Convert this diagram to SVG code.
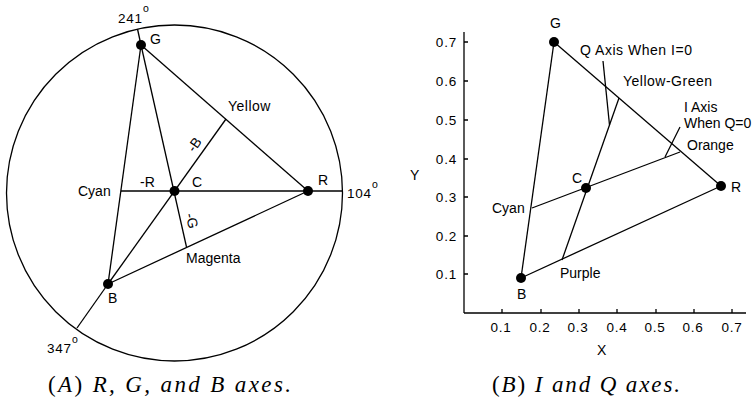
<svg xmlns="http://www.w3.org/2000/svg" width="754" height="401" viewBox="0 0 754 401">
<style>
.ln{stroke:#000;stroke-width:1.3;fill:none}
.dot{fill:#000}
.lb{font-family:"Liberation Sans","DejaVu Sans",sans-serif;font-size:14px;fill:#000}
.tk{font-family:"Liberation Sans","DejaVu Sans",sans-serif;font-size:13.5px;letter-spacing:0.8px;fill:#000}
.sup{font-family:"Liberation Sans","DejaVu Sans",sans-serif;font-size:10.5px;fill:#000}
.cap{font-family:"Liberation Serif","DejaVu Serif",serif;font-size:23px;font-style:italic;fill:#000}
</style>
<rect width="754" height="401" fill="#fff"/>
<!-- Panel A -->
<g id="panelA-connectors">
<circle class="ln" cx="174.5" cy="193" r="168"/>
<line class="ln" x1="141" y1="45" x2="137.5" y2="29"/>
<line class="ln" x1="121" y1="191" x2="342" y2="191"/>
<line class="ln" x1="108" y1="284" x2="77" y2="328"/>
<line class="ln" x1="141" y1="45" x2="308" y2="191"/>
<line class="ln" x1="308" y1="191" x2="108" y2="284"/>
<line class="ln" x1="141" y1="45" x2="108" y2="284"/>
<line class="ln" x1="141" y1="45" x2="186.5" y2="247"/>
<line class="ln" x1="108" y1="284" x2="226" y2="119"/>
</g>
<g id="A-G"><circle class="dot" cx="141" cy="45" r="5"/><text class="lb" x="150" y="44">G</text></g>
<g id="A-R"><circle class="dot" cx="308" cy="191" r="5"/><text class="lb" x="318" y="185">R</text></g>
<g id="A-B"><circle class="dot" cx="108" cy="284" r="5"/><text class="lb" x="108" y="303">B</text></g>
<g id="A-C"><circle class="dot" cx="174.5" cy="191" r="5"/><text class="lb" x="192" y="187">C</text></g>
<g id="A-labels">
<text class="lb" x="228" y="111" letter-spacing="0.5">Yellow</text>
<text class="lb" x="78" y="196">Cyan</text>
<text class="lb" x="140" y="187">-R</text>
<text class="lb" x="186" y="263">Magenta</text>
<text class="lb" transform="translate(195,145) rotate(-55)" text-anchor="middle" dy="4">-B</text>
<text class="lb" transform="translate(191,221) rotate(77)" text-anchor="middle" dy="4">-G</text>
<text class="tk" x="118" y="23" letter-spacing="0">241</text><text class="sup" x="143" y="12">o</text>
<text class="tk" x="347" y="198" letter-spacing="0">104</text><text class="sup" x="372" y="188">o</text>
<text class="tk" x="47" y="353" letter-spacing="0">347</text><text class="sup" x="72" y="343">o</text>
</g>
<text class="cap" x="48" y="392" textLength="243" lengthAdjust="spacing"><tspan font-style="normal">(</tspan>A<tspan font-style="normal">)</tspan>  R, G, and B axes.</text>
<!-- Panel B -->
<g id="axes">
<line class="ln" x1="464" y1="32" x2="464" y2="313"/>
<line class="ln" x1="464" y1="313" x2="746" y2="313"/>
<path class="ln" d="M464 42h4M464 81h4M464 120h4M464 159h4M464 197h4M464 236h4M464 274h4"/>
<path class="ln" d="M502 313v-4M541 313v-4M579 313v-4M617 313v-4M656 313v-4M694 313v-4M732 313v-4"/>
<g class="tk" text-anchor="end">
<text x="457" y="47">0.7</text><text x="457" y="86">0.6</text><text x="457" y="125">0.5</text><text x="457" y="164">0.4</text><text x="457" y="202">0.3</text><text x="457" y="241">0.2</text><text x="457" y="279">0.1</text>
</g>
<g class="tk" text-anchor="middle">
<text x="501" y="332">0.1</text><text x="540" y="332">0.2</text><text x="578" y="332">0.3</text><text x="617" y="332">0.4</text><text x="655" y="332">0.5</text><text x="693" y="332">0.6</text><text x="732" y="332">0.7</text>
</g>
<text class="lb" x="410" y="180">Y</text>
<text class="lb" x="597" y="355">X</text>
</g>
<g id="panelB-connectors">
<line class="ln" x1="554" y1="42" x2="721" y2="186"/>
<line class="ln" x1="721" y1="186" x2="521" y2="278"/>
<line class="ln" x1="554" y1="42" x2="521" y2="278"/>
<line class="ln" x1="532" y1="208" x2="680" y2="152"/>
<line class="ln" x1="562" y1="260" x2="619" y2="98"/>
<line class="ln" x1="603" y1="61" x2="609.5" y2="125"/>
<line class="ln" x1="680" y1="127" x2="665" y2="157"/>
</g>
<g id="B-G"><circle class="dot" cx="554" cy="42" r="5"/><text class="lb" x="550" y="28">G</text></g>
<g id="B-R"><circle class="dot" cx="721" cy="186" r="5"/><text class="lb" x="731" y="192">R</text></g>
<g id="B-B"><circle class="dot" cx="521" cy="278" r="5"/><text class="lb" x="517" y="299">B</text></g>
<g id="B-C"><circle class="dot" cx="586" cy="188" r="5"/><text class="lb" x="572" y="183">C</text></g>
<g id="B-labels">
<text class="lb" x="580" y="55" textLength="112" lengthAdjust="spacing">Q Axis When I=0</text>
<text class="lb" x="623" y="86" textLength="89" lengthAdjust="spacing">Yellow-Green</text>
<text class="lb" x="684" y="112">I Axis</text>
<text class="lb" x="684" y="128">When Q=0</text>
<text class="lb" x="687" y="150">Orange</text>
<text class="lb" x="492" y="213">Cyan</text>
<text class="lb" x="560" y="278">Purple</text>
</g>
<text class="cap" x="492" y="392" textLength="188" lengthAdjust="spacing"><tspan font-style="normal">(</tspan>B<tspan font-style="normal">)</tspan>  I and Q axes.</text>
</svg>
